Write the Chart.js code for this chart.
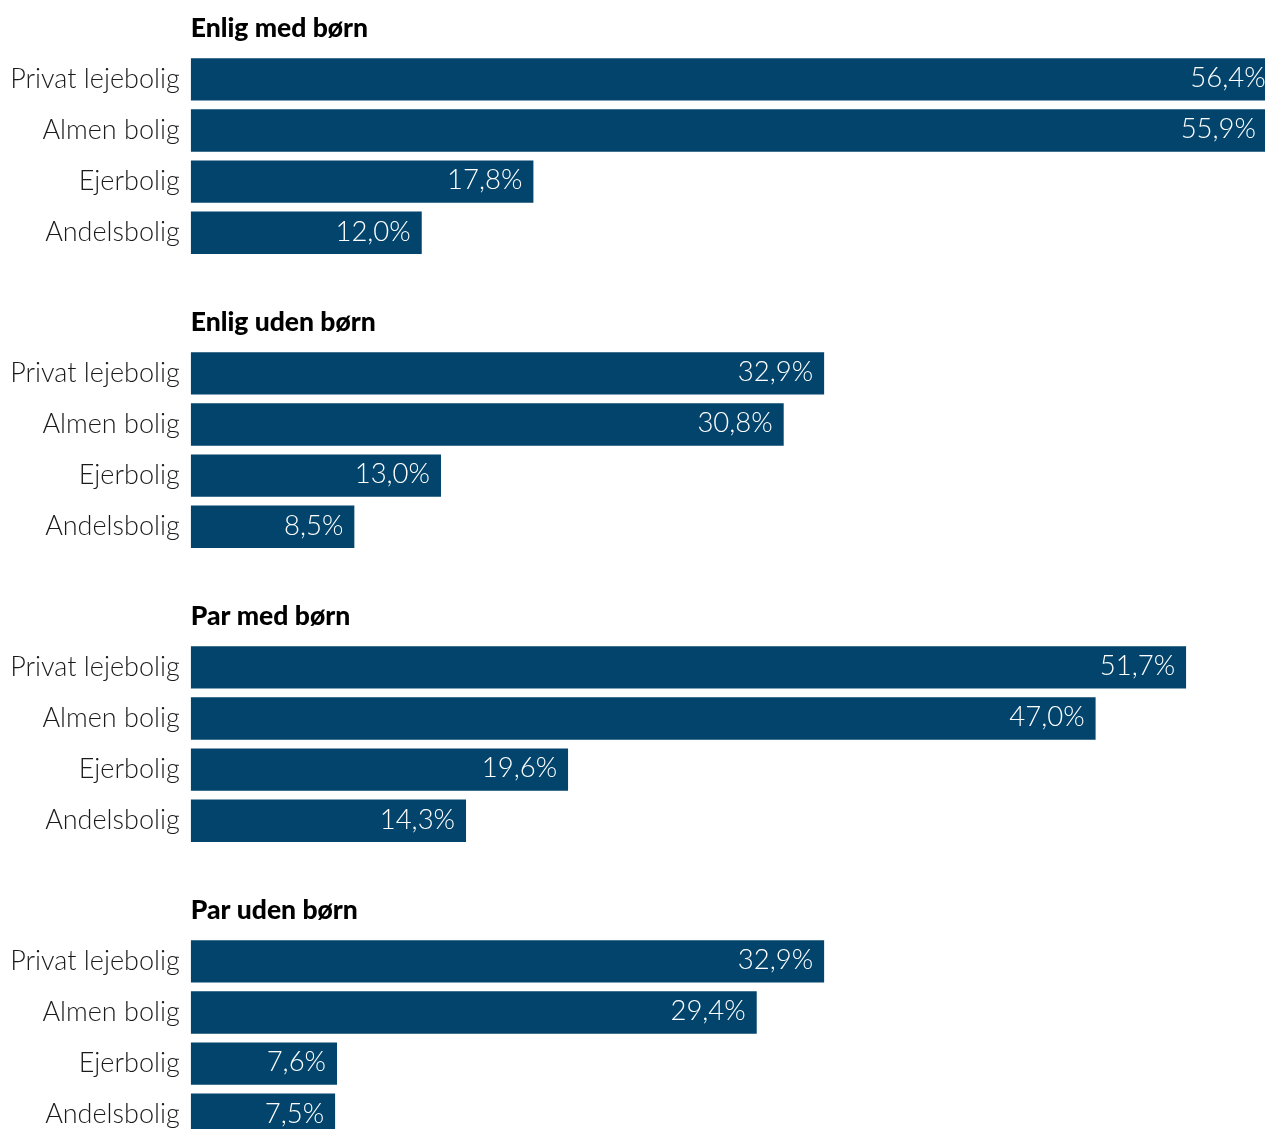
<!DOCTYPE html>
<html>
<head>
<meta charset="utf-8">
<script src="https://cdn.jsdelivr.net/npm/chart.js@4/dist/chart.umd.min.js"></script>
<style>
  html, body { margin: 0; padding: 0; background: #fff; overflow: hidden; width: 1265px; height: 1129px; }
  .wrap { width: 1343px; height: 294px; position: relative; }
  canvas { display: block; }
</style>
</head>
<body>
<div id="charts"></div>
<script>
const groupTitles = ["Enlig med børn", "Enlig uden børn", "Par med børn", "Par uden børn"];
const categories = ["Privat lejebolig", "Almen bolig", "Ejerbolig", "Andelsbolig"];
const enligMedBorn = [56.4, 55.9, 17.8, 12.0];
const enligUdenBorn = [32.9, 30.8, 13.0, 8.5];
const parMedBorn = [51.7, 47.0, 19.6, 14.3];
const parUdenBorn = [32.9, 29.4, 7.6, 7.5];
const groupValues = [enligMedBorn, enligUdenBorn, parMedBorn, parUdenBorn];

const BAR_COLOR = "#02446c";
const FONT = "Lato, 'Open Sans', sans-serif";

const overlayPlugin = {
  id: "overlay",
  afterDatasetsDraw(chart, args, opts) {
    const ctx = chart.ctx;
    const area = chart.chartArea;
    ctx.save();
    // group title
    ctx.font = "900 26.5px " + FONT;
    ctx.fillStyle = "#000";
    ctx.textAlign = "left";
    ctx.textBaseline = "alphabetic";
    ctx.fillText(opts.title, area.left, 37);
    // value labels
    ctx.font = "300 27.5px " + FONT;
    ctx.fillStyle = "#ffffff";
    ctx.textAlign = "right";
    ctx.textBaseline = "middle";
    const meta = chart.getDatasetMeta(0);
    const data = chart.data.datasets[0].data;
    meta.data.forEach((el, i) => {
      const txt = data[i].toFixed(1).replace(".", ",") + "%";
      ctx.fillText(txt, el.x - 11, el.y - 1);
    });
    ctx.restore();
  }
};

const container = document.getElementById("charts");
groupValues.forEach((vals, gi) => {
  const wrap = document.createElement("div");
  wrap.className = "wrap";
  const cv = document.createElement("canvas");
  cv.width = 1343; cv.height = 294;
  cv.style.width = "1343px"; cv.style.height = "294px";
  wrap.appendChild(cv);
  container.appendChild(wrap);
  new Chart(cv, {
    type: "bar",
    data: {
      labels: categories,
      datasets: [{
        data: vals,
        backgroundColor: BAR_COLOR,
        borderWidth: 0,
        barPercentage: 0.828,
        categoryPercentage: 1.0
      }]
    },
    options: {
      indexAxis: "y",
      responsive: false,
      animation: false,
      devicePixelRatio: 1,
      layout: { padding: { top: 53.8, bottom: 35.7, left: 0, right: 0 } },
      plugins: {
        legend: { display: false },
        tooltip: { enabled: false },
        title: { display: false },
        overlay: { title: groupTitles[gi] }
      },
      scales: {
        x: { display: false, min: 0, max: 59.85 },
        y: {
          grid: { display: false, drawTicks: false },
          border: { display: false },
          ticks: {
            color: "#1a1a1a",
            font: { family: FONT, size: 27, weight: 300 },
            padding: 11
          },
          afterFit(scale) { scale.width = 190.7; }
        }
      }
    },
    plugins: [overlayPlugin]
  });
});
</script>
</body>
</html>
